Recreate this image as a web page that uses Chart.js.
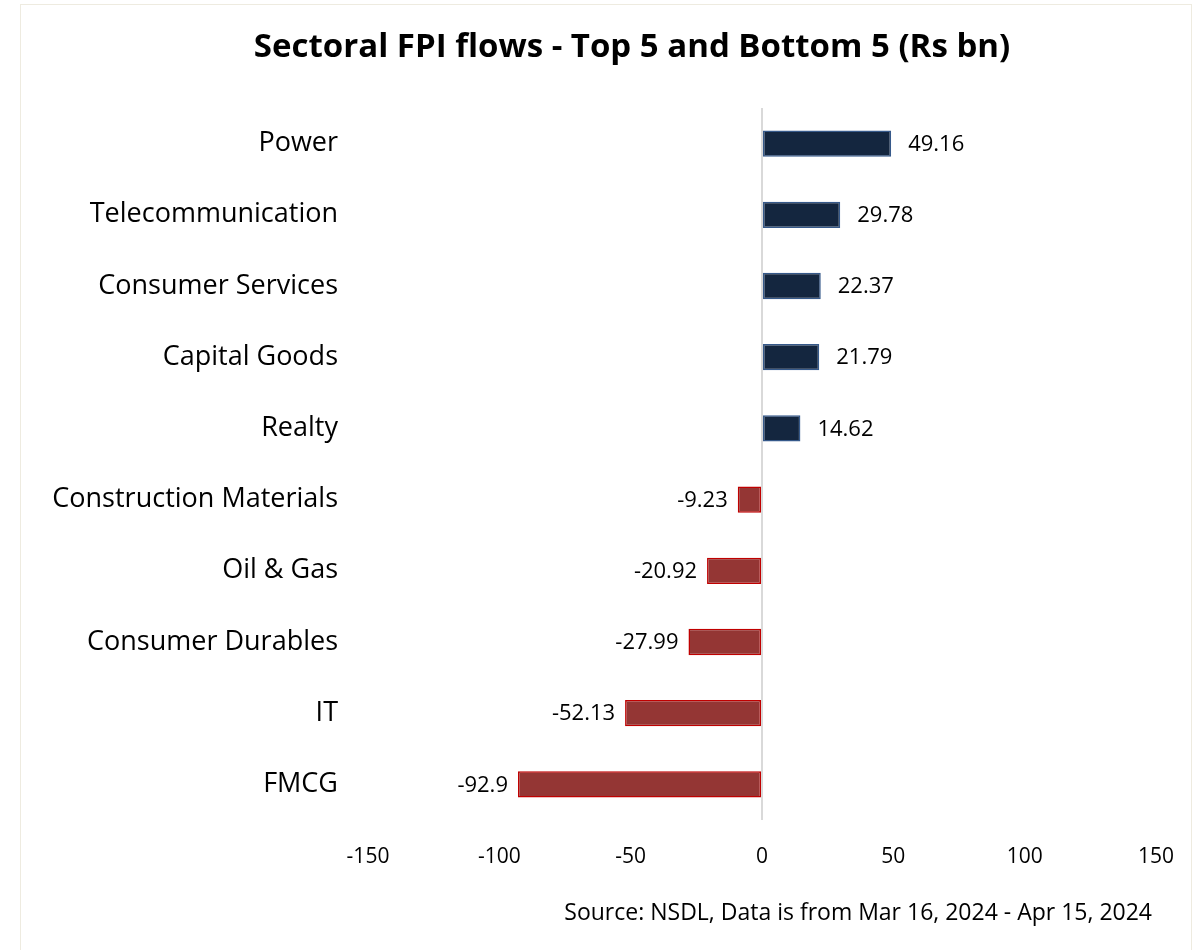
<!DOCTYPE html>
<html>
<head>
<meta charset="utf-8">
<script src="https://cdn.jsdelivr.net/npm/chart.js@4.4.1/dist/chart.umd.min.js"></script>
<style>
  html, body { margin: 0; padding: 0; background: #fff; }
  #frame {
    position: absolute; left: 20px; top: 4px; width: 1172px; height: 960px;
    border: 1px solid #eeebe0; box-sizing: border-box;
  }
  #wrap { position: absolute; left: 0; top: 0; width: 1201px; height: 950px; }
  #source {
    position: absolute; right: 49px; top: 895px;
    font-family: "Open Sans", Lato, sans-serif; font-size: 23px; color: #000;
  }
</style>
</head>
<body>
<div id="frame"></div>
<div id="wrap"><canvas id="fpiChart" width="1201" height="950"></canvas></div>
<div id="source">Source: NSDL, Data is from Mar 16, 2024 - Apr 15, 2024</div>
<script>
// Sectors, ordered top to bottom as in the chart
const sectors = [
    'Power', 'Telecommunication', 'Consumer Services', 'Capital Goods', 'Realty',
    'Construction Materials', 'Oil & Gas', 'Consumer Durables', 'IT', 'FMCG'
];
// FPI flows in Rs bn
const flows = [49.16, 29.78, 22.37, 21.79, 14.62, -9.23, -20.92, -27.99, -52.13, -92.9];
const xTicks = [-150, -100, -50, 0, 50, 100, 150];
const chartTitle = 'Sectoral FPI flows - Top 5 and Bottom 5 (Rs bn)';

const fontFamily = '"Open Sans", Lato, sans-serif';

// Draws the value next to the end of each bar
const valueLabels = {
    id: 'valueLabels',
    afterDatasetsDraw(chart) {
        const ctx = chart.ctx;
        const meta = chart.getDatasetMeta(0);
        ctx.save();
        ctx.font = '22px ' + fontFamily;
        ctx.fillStyle = '#000';
        ctx.textBaseline = 'middle';
        meta.data.forEach((bar, i) => {
            const v = flows[i];
            if (v >= 0) {
                ctx.textAlign = 'left';
                ctx.fillText(String(v), bar.x + 17, bar.y + 1);
            } else {
                ctx.textAlign = 'right';
                ctx.fillText(String(v), bar.x - 10, bar.y + 1);
            }
        });
        ctx.restore();
    }
};

// Title sits a bit right of the canvas centre in the original
const offsetTitle = {
    id: 'offsetTitle',
    afterDraw(chart) {
        const ctx = chart.ctx;
        ctx.save();
        ctx.font = 'bold 33px ' + fontFamily;
        ctx.fillStyle = '#000';
        ctx.textAlign = 'center';
        ctx.textBaseline = 'middle';
        ctx.fillText(chartTitle, 632, 48);
        ctx.restore();
    }
};

function initializeChart() {
    const ctx = document.getElementById('fpiChart').getContext('2d');

    new Chart(ctx, {
        type: 'bar',
        data: {
            labels: sectors,
            datasets: [{
                data: flows,
                backgroundColor: flows.map(v => v >= 0 ? '#14263f' : '#943634'),
                borderColor: flows.map(v => v >= 0 ? '#36598a' : '#c00000'),
                borderWidth: 1.5,
                borderSkipped: false,
                barPercentage: 0.37,
                categoryPercentage: 1,
            }],
        },
        options: {
            indexAxis: 'y',
            responsive: false,
            animation: false,
            layout: {
                padding: { left: 0, right: 45, top: 108, bottom: 0 }
            },
            plugins: {
                legend: { display: false },
                tooltip: { enabled: false },
                title: { display: false },
            },
            scales: {
                x: {
                    min: -150,
                    max: 150,
                    afterBuildTicks: (scale) => {
                        scale.ticks = xTicks.map(v => ({ value: v }));
                    },
                    grid: {
                        drawTicks: false,
                        color: (c) => (c.tick && c.tick.value === 0 ? '#d9d9d9' : 'transparent'),
                        lineWidth: 2,
                    },
                    border: { display: false },
                    ticks: {
                        color: '#000',
                        padding: 24,
                        font: { family: fontFamily, size: 21 },
                    },
                    afterFit: (scale) => { scale.height = 130; },
                },
                y: {
                    grid: { display: false, drawTicks: false },
                    border: { display: false },
                    ticks: {
                        color: '#000',
                        padding: 30,
                        font: { family: fontFamily, size: 27 },
                    },
                    afterFit: (scale) => { scale.width = 368; },
                },
            },
        },
        plugins: [valueLabels, offsetTitle],
    });
}

document.addEventListener('DOMContentLoaded', initializeChart);
</script>
</body>
</html>
